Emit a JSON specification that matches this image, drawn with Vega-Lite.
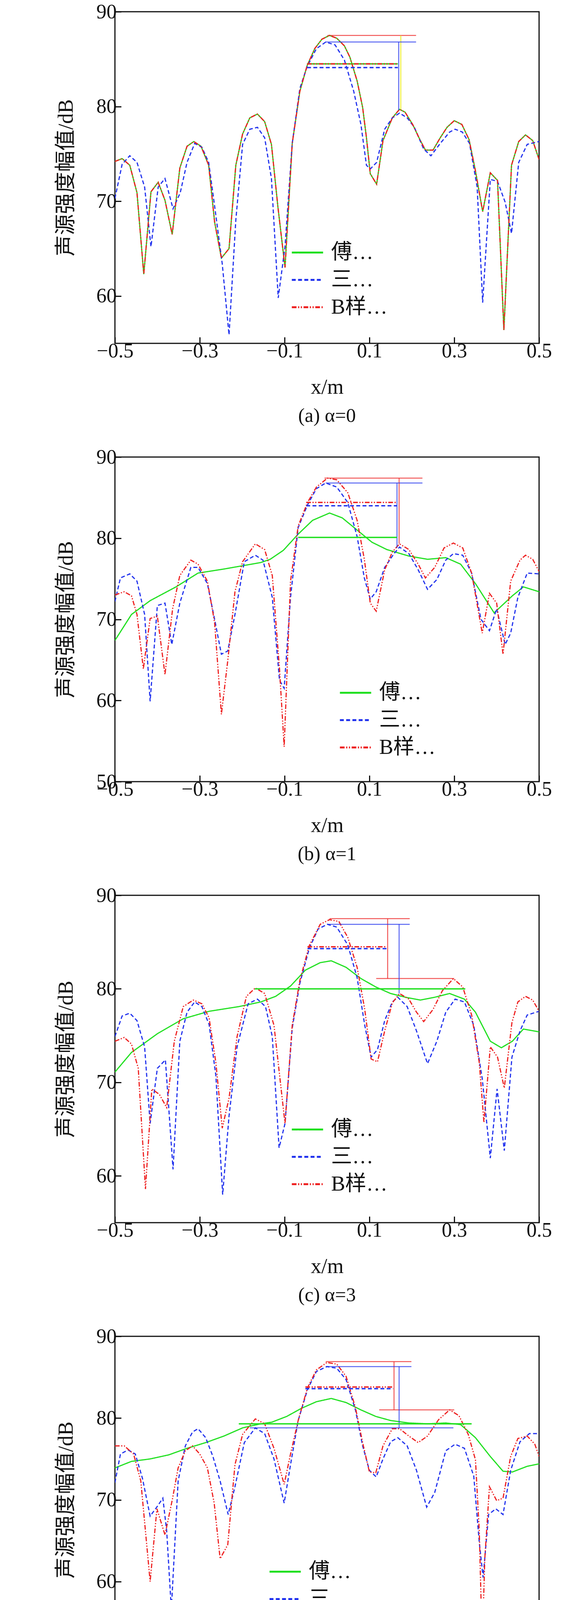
{
  "$schema": "https://vega.github.io/schema/vega-lite/v6.json",
  "padding": {"left": 140, "top": 2, "right": 40, "bottom": 10},
  "spacing": 50,
  "datasets": {
    "lines": [
      {"p":"a","s":"F","x":-0.5,"y":74.2},{"p":"a","s":"F","x":-0.483,"y":74.5},{"p":"a","s":"F","x":-0.465,"y":73.8},{"p":"a","s":"F","x":-0.448,"y":70.9},{"p":"a","s":"F","x":-0.432,"y":62.3},{"p":"a","s":"F","x":-0.415,"y":71.0},{"p":"a","s":"F","x":-0.398,"y":72.0},{"p":"a","s":"F","x":-0.382,"y":70.1},{"p":"a","s":"F","x":-0.365,"y":66.5},{"p":"a","s":"F","x":-0.347,"y":73.5},{"p":"a","s":"F","x":-0.33,"y":75.8},{"p":"a","s":"F","x":-0.314,"y":76.3},{"p":"a","s":"F","x":-0.297,"y":75.8},{"p":"a","s":"F","x":-0.279,"y":73.8},{"p":"a","s":"F","x":-0.265,"y":67.8},{"p":"a","s":"F","x":-0.249,"y":64.0},{"p":"a","s":"F","x":-0.231,"y":65.0},{"p":"a","s":"F","x":-0.215,"y":73.8},{"p":"a","s":"F","x":-0.199,"y":77.1},{"p":"a","s":"F","x":-0.182,"y":78.8},{"p":"a","s":"F","x":-0.164,"y":79.2},{"p":"a","s":"F","x":-0.147,"y":78.4},{"p":"a","s":"F","x":-0.131,"y":76.0},{"p":"a","s":"F","x":-0.116,"y":69.5},{"p":"a","s":"F","x":-0.099,"y":63.0},{"p":"a","s":"F","x":-0.082,"y":76.1},{"p":"a","s":"F","x":-0.064,"y":81.6},{"p":"a","s":"F","x":-0.047,"y":84.3},{"p":"a","s":"F","x":-0.029,"y":86.1},{"p":"a","s":"F","x":-0.012,"y":87.1},{"p":"a","s":"F","x":0.006,"y":87.5},{"p":"a","s":"F","x":0.023,"y":87.2},{"p":"a","s":"F","x":0.041,"y":86.4},{"p":"a","s":"F","x":0.054,"y":85.2},{"p":"a","s":"F","x":0.071,"y":82.7},{"p":"a","s":"F","x":0.084,"y":79.9},{"p":"a","s":"F","x":0.093,"y":76.7},{"p":"a","s":"F","x":0.102,"y":72.9},{"p":"a","s":"F","x":0.117,"y":71.8},{"p":"a","s":"F","x":0.132,"y":76.4},{"p":"a","s":"F","x":0.154,"y":78.8},{"p":"a","s":"F","x":0.171,"y":79.7},{"p":"a","s":"F","x":0.184,"y":79.4},{"p":"a","s":"F","x":0.202,"y":78.1},{"p":"a","s":"F","x":0.219,"y":76.5},{"p":"a","s":"F","x":0.232,"y":75.4},{"p":"a","s":"F","x":0.25,"y":75.4},{"p":"a","s":"F","x":0.267,"y":76.7},{"p":"a","s":"F","x":0.283,"y":77.8},{"p":"a","s":"F","x":0.3,"y":78.5},{"p":"a","s":"F","x":0.318,"y":78.1},{"p":"a","s":"F","x":0.335,"y":76.5},{"p":"a","s":"F","x":0.35,"y":73.2},{"p":"a","s":"F","x":0.367,"y":68.9},{"p":"a","s":"F","x":0.385,"y":73.0},{"p":"a","s":"F","x":0.402,"y":72.2},{"p":"a","s":"F","x":0.417,"y":56.4},{"p":"a","s":"F","x":0.435,"y":73.8},{"p":"a","s":"F","x":0.452,"y":76.3},{"p":"a","s":"F","x":0.468,"y":77.0},{"p":"a","s":"F","x":0.485,"y":76.4},{"p":"a","s":"F","x":0.5,"y":74.4},
      {"p":"a","s":"C","x":-0.5,"y":70.3},{"p":"a","s":"C","x":-0.483,"y":73.9},{"p":"a","s":"C","x":-0.465,"y":74.8},{"p":"a","s":"C","x":-0.448,"y":74.1},{"p":"a","s":"C","x":-0.43,"y":71.5},{"p":"a","s":"C","x":-0.415,"y":65.2},{"p":"a","s":"C","x":-0.398,"y":71.5},{"p":"a","s":"C","x":-0.382,"y":72.4},{"p":"a","s":"C","x":-0.363,"y":69.2},{"p":"a","s":"C","x":-0.346,"y":70.9},{"p":"a","s":"C","x":-0.33,"y":74.1},{"p":"a","s":"C","x":-0.312,"y":76.1},{"p":"a","s":"C","x":-0.295,"y":75.7},{"p":"a","s":"C","x":-0.279,"y":74.1},{"p":"a","s":"C","x":-0.265,"y":69.5},{"p":"a","s":"C","x":-0.247,"y":63.4},{"p":"a","s":"C","x":-0.231,"y":55.9},{"p":"a","s":"C","x":-0.215,"y":68.0},{"p":"a","s":"C","x":-0.199,"y":76.0},{"p":"a","s":"C","x":-0.182,"y":77.6},{"p":"a","s":"C","x":-0.164,"y":77.8},{"p":"a","s":"C","x":-0.147,"y":76.7},{"p":"a","s":"C","x":-0.131,"y":72.4},{"p":"a","s":"C","x":-0.115,"y":59.8},{"p":"a","s":"C","x":-0.099,"y":65.2},{"p":"a","s":"C","x":-0.082,"y":76.1},{"p":"a","s":"C","x":-0.064,"y":81.9},{"p":"a","s":"C","x":-0.047,"y":84.2},{"p":"a","s":"C","x":-0.025,"y":86.1},{"p":"a","s":"C","x":-0.003,"y":86.8},{"p":"a","s":"C","x":0.019,"y":86.5},{"p":"a","s":"C","x":0.041,"y":84.9},{"p":"a","s":"C","x":0.063,"y":81.6},{"p":"a","s":"C","x":0.08,"y":78.1},{"p":"a","s":"C","x":0.093,"y":73.8},{"p":"a","s":"C","x":0.102,"y":73.4},{"p":"a","s":"C","x":0.117,"y":74.1},{"p":"a","s":"C","x":0.136,"y":77.6},{"p":"a","s":"C","x":0.154,"y":78.8},{"p":"a","s":"C","x":0.171,"y":79.3},{"p":"a","s":"C","x":0.189,"y":78.8},{"p":"a","s":"C","x":0.206,"y":77.8},{"p":"a","s":"C","x":0.228,"y":75.5},{"p":"a","s":"C","x":0.245,"y":74.8},{"p":"a","s":"C","x":0.267,"y":76.1},{"p":"a","s":"C","x":0.289,"y":77.3},{"p":"a","s":"C","x":0.302,"y":77.6},{"p":"a","s":"C","x":0.319,"y":77.3},{"p":"a","s":"C","x":0.336,"y":76.1},{"p":"a","s":"C","x":0.354,"y":71.5},{"p":"a","s":"C","x":0.367,"y":59.3},{"p":"a","s":"C","x":0.385,"y":72.3},{"p":"a","s":"C","x":0.402,"y":72.1},{"p":"a","s":"C","x":0.42,"y":69.9},{"p":"a","s":"C","x":0.435,"y":66.6},{"p":"a","s":"C","x":0.452,"y":74.1},{"p":"a","s":"C","x":0.472,"y":76.0},{"p":"a","s":"C","x":0.5,"y":76.3},
      {"p":"a","s":"B","x":-0.5,"y":74.2},{"p":"a","s":"B","x":-0.483,"y":74.5},{"p":"a","s":"B","x":-0.465,"y":73.8},{"p":"a","s":"B","x":-0.448,"y":70.9},{"p":"a","s":"B","x":-0.432,"y":62.3},{"p":"a","s":"B","x":-0.415,"y":71.0},{"p":"a","s":"B","x":-0.398,"y":72.0},{"p":"a","s":"B","x":-0.382,"y":70.1},{"p":"a","s":"B","x":-0.365,"y":66.5},{"p":"a","s":"B","x":-0.347,"y":73.5},{"p":"a","s":"B","x":-0.33,"y":75.8},{"p":"a","s":"B","x":-0.314,"y":76.3},{"p":"a","s":"B","x":-0.297,"y":75.8},{"p":"a","s":"B","x":-0.279,"y":73.8},{"p":"a","s":"B","x":-0.265,"y":67.8},{"p":"a","s":"B","x":-0.249,"y":64.0},{"p":"a","s":"B","x":-0.231,"y":65.0},{"p":"a","s":"B","x":-0.215,"y":73.8},{"p":"a","s":"B","x":-0.199,"y":77.1},{"p":"a","s":"B","x":-0.182,"y":78.8},{"p":"a","s":"B","x":-0.164,"y":79.2},{"p":"a","s":"B","x":-0.147,"y":78.4},{"p":"a","s":"B","x":-0.131,"y":76.0},{"p":"a","s":"B","x":-0.116,"y":69.5},{"p":"a","s":"B","x":-0.099,"y":63.0},{"p":"a","s":"B","x":-0.082,"y":76.1},{"p":"a","s":"B","x":-0.064,"y":81.6},{"p":"a","s":"B","x":-0.047,"y":84.3},{"p":"a","s":"B","x":-0.029,"y":86.1},{"p":"a","s":"B","x":-0.012,"y":87.1},{"p":"a","s":"B","x":0.006,"y":87.5},{"p":"a","s":"B","x":0.023,"y":87.2},{"p":"a","s":"B","x":0.041,"y":86.4},{"p":"a","s":"B","x":0.054,"y":85.2},{"p":"a","s":"B","x":0.071,"y":82.7},{"p":"a","s":"B","x":0.084,"y":79.9},{"p":"a","s":"B","x":0.093,"y":76.7},{"p":"a","s":"B","x":0.102,"y":72.9},{"p":"a","s":"B","x":0.117,"y":71.8},{"p":"a","s":"B","x":0.132,"y":76.4},{"p":"a","s":"B","x":0.154,"y":78.8},{"p":"a","s":"B","x":0.171,"y":79.7},{"p":"a","s":"B","x":0.184,"y":79.4},{"p":"a","s":"B","x":0.202,"y":78.1},{"p":"a","s":"B","x":0.219,"y":76.5},{"p":"a","s":"B","x":0.232,"y":75.4},{"p":"a","s":"B","x":0.25,"y":75.4},{"p":"a","s":"B","x":0.267,"y":76.7},{"p":"a","s":"B","x":0.283,"y":77.8},{"p":"a","s":"B","x":0.3,"y":78.5},{"p":"a","s":"B","x":0.318,"y":78.1},{"p":"a","s":"B","x":0.335,"y":76.5},{"p":"a","s":"B","x":0.35,"y":73.2},{"p":"a","s":"B","x":0.367,"y":68.9},{"p":"a","s":"B","x":0.385,"y":73.0},{"p":"a","s":"B","x":0.402,"y":72.2},{"p":"a","s":"B","x":0.417,"y":56.4},{"p":"a","s":"B","x":0.435,"y":73.8},{"p":"a","s":"B","x":0.452,"y":76.3},{"p":"a","s":"B","x":0.468,"y":77.0},{"p":"a","s":"B","x":0.485,"y":76.4},{"p":"a","s":"B","x":0.5,"y":74.4},

      {"p":"b","s":"F","x":-0.5,"y":67.4},{"p":"b","s":"F","x":-0.461,"y":70.6},{"p":"b","s":"F","x":-0.417,"y":72.3},{"p":"b","s":"F","x":-0.356,"y":74.0},{"p":"b","s":"F","x":-0.304,"y":75.7},{"p":"b","s":"F","x":-0.243,"y":76.2},{"p":"b","s":"F","x":-0.156,"y":77.0},{"p":"b","s":"F","x":-0.134,"y":77.4},{"p":"b","s":"F","x":-0.103,"y":78.5},{"p":"b","s":"F","x":-0.068,"y":80.5},{"p":"b","s":"F","x":-0.034,"y":82.2},{"p":"b","s":"F","x":0.006,"y":83.1},{"p":"b","s":"F","x":0.036,"y":82.5},{"p":"b","s":"F","x":0.071,"y":81.0},{"p":"b","s":"F","x":0.106,"y":79.5},{"p":"b","s":"F","x":0.141,"y":78.6},{"p":"b","s":"F","x":0.193,"y":77.8},{"p":"b","s":"F","x":0.237,"y":77.4},{"p":"b","s":"F","x":0.28,"y":77.6},{"p":"b","s":"F","x":0.315,"y":76.8},{"p":"b","s":"F","x":0.35,"y":74.4},{"p":"b","s":"F","x":0.394,"y":70.8},{"p":"b","s":"F","x":0.437,"y":72.9},{"p":"b","s":"F","x":0.463,"y":74.0},{"p":"b","s":"F","x":0.5,"y":73.4},
      {"p":"b","s":"C","x":-0.5,"y":72.2},{"p":"b","s":"C","x":-0.487,"y":75.1},{"p":"b","s":"C","x":-0.465,"y":75.6},{"p":"b","s":"C","x":-0.448,"y":74.7},{"p":"b","s":"C","x":-0.43,"y":70.6},{"p":"b","s":"C","x":-0.417,"y":59.9},{"p":"b","s":"C","x":-0.4,"y":71.7},{"p":"b","s":"C","x":-0.382,"y":72.0},{"p":"b","s":"C","x":-0.366,"y":66.9},{"p":"b","s":"C","x":-0.347,"y":72.0},{"p":"b","s":"C","x":-0.321,"y":76.4},{"p":"b","s":"C","x":-0.304,"y":76.4},{"p":"b","s":"C","x":-0.282,"y":74.4},{"p":"b","s":"C","x":-0.265,"y":70.0},{"p":"b","s":"C","x":-0.249,"y":65.7},{"p":"b","s":"C","x":-0.234,"y":66.1},{"p":"b","s":"C","x":-0.217,"y":70.6},{"p":"b","s":"C","x":-0.195,"y":77.1},{"p":"b","s":"C","x":-0.169,"y":77.9},{"p":"b","s":"C","x":-0.151,"y":77.3},{"p":"b","s":"C","x":-0.129,"y":72.7},{"p":"b","s":"C","x":-0.112,"y":62.5},{"p":"b","s":"C","x":-0.101,"y":61.5},{"p":"b","s":"C","x":-0.086,"y":72.7},{"p":"b","s":"C","x":-0.068,"y":81.3},{"p":"b","s":"C","x":-0.046,"y":84.1},{"p":"b","s":"C","x":-0.025,"y":86.1},{"p":"b","s":"C","x":-0.003,"y":86.8},{"p":"b","s":"C","x":0.023,"y":86.3},{"p":"b","s":"C","x":0.049,"y":84.4},{"p":"b","s":"C","x":0.071,"y":80.2},{"p":"b","s":"C","x":0.088,"y":75.1},{"p":"b","s":"C","x":0.102,"y":72.5},{"p":"b","s":"C","x":0.116,"y":73.4},{"p":"b","s":"C","x":0.136,"y":76.4},{"p":"b","s":"C","x":0.158,"y":78.1},{"p":"b","s":"C","x":0.171,"y":78.9},{"p":"b","s":"C","x":0.193,"y":78.1},{"p":"b","s":"C","x":0.215,"y":76.1},{"p":"b","s":"C","x":0.237,"y":73.7},{"p":"b","s":"C","x":0.259,"y":74.9},{"p":"b","s":"C","x":0.28,"y":77.3},{"p":"b","s":"C","x":0.298,"y":78.1},{"p":"b","s":"C","x":0.32,"y":77.9},{"p":"b","s":"C","x":0.341,"y":75.7},{"p":"b","s":"C","x":0.363,"y":70.0},{"p":"b","s":"C","x":0.383,"y":68.6},{"p":"b","s":"C","x":0.4,"y":71.3},{"p":"b","s":"C","x":0.42,"y":66.9},{"p":"b","s":"C","x":0.433,"y":68.3},{"p":"b","s":"C","x":0.45,"y":72.7},{"p":"b","s":"C","x":0.472,"y":75.7},{"p":"b","s":"C","x":0.5,"y":75.6},
      {"p":"b","s":"B","x":-0.5,"y":73.0},{"p":"b","s":"B","x":-0.478,"y":73.4},{"p":"b","s":"B","x":-0.461,"y":72.9},{"p":"b","s":"B","x":-0.448,"y":70.6},{"p":"b","s":"B","x":-0.433,"y":63.9},{"p":"b","s":"B","x":-0.417,"y":70.1},{"p":"b","s":"B","x":-0.4,"y":70.4},{"p":"b","s":"B","x":-0.382,"y":63.2},{"p":"b","s":"B","x":-0.364,"y":71.3},{"p":"b","s":"B","x":-0.347,"y":75.4},{"p":"b","s":"B","x":-0.321,"y":77.3},{"p":"b","s":"B","x":-0.304,"y":76.8},{"p":"b","s":"B","x":-0.282,"y":74.7},{"p":"b","s":"B","x":-0.265,"y":69.6},{"p":"b","s":"B","x":-0.249,"y":58.3},{"p":"b","s":"B","x":-0.234,"y":64.9},{"p":"b","s":"B","x":-0.217,"y":73.4},{"p":"b","s":"B","x":-0.199,"y":77.1},{"p":"b","s":"B","x":-0.169,"y":79.3},{"p":"b","s":"B","x":-0.147,"y":78.6},{"p":"b","s":"B","x":-0.129,"y":75.4},{"p":"b","s":"B","x":-0.112,"y":63.9},{"p":"b","s":"B","x":-0.101,"y":54.3},{"p":"b","s":"B","x":-0.086,"y":74.7},{"p":"b","s":"B","x":-0.068,"y":81.5},{"p":"b","s":"B","x":-0.046,"y":84.4},{"p":"b","s":"B","x":-0.025,"y":86.3},{"p":"b","s":"B","x":0.001,"y":87.4},{"p":"b","s":"B","x":0.023,"y":87.2},{"p":"b","s":"B","x":0.049,"y":85.6},{"p":"b","s":"B","x":0.071,"y":82.2},{"p":"b","s":"B","x":0.088,"y":77.4},{"p":"b","s":"B","x":0.102,"y":72.0},{"p":"b","s":"B","x":0.116,"y":71.0},{"p":"b","s":"B","x":0.136,"y":76.1},{"p":"b","s":"B","x":0.154,"y":78.3},{"p":"b","s":"B","x":0.171,"y":79.3},{"p":"b","s":"B","x":0.193,"y":78.6},{"p":"b","s":"B","x":0.215,"y":76.8},{"p":"b","s":"B","x":0.232,"y":75.1},{"p":"b","s":"B","x":0.254,"y":76.4},{"p":"b","s":"B","x":0.276,"y":78.8},{"p":"b","s":"B","x":0.298,"y":79.4},{"p":"b","s":"B","x":0.32,"y":78.8},{"p":"b","s":"B","x":0.341,"y":75.7},{"p":"b","s":"B","x":0.366,"y":68.3},{"p":"b","s":"B","x":0.383,"y":73.2},{"p":"b","s":"B","x":0.4,"y":72.0},{"p":"b","s":"B","x":0.415,"y":65.7},{"p":"b","s":"B","x":0.433,"y":74.7},{"p":"b","s":"B","x":0.455,"y":77.3},{"p":"b","s":"B","x":0.468,"y":77.9},{"p":"b","s":"B","x":0.485,"y":77.4},{"p":"b","s":"B","x":0.5,"y":75.9},

      {"p":"c","s":"F","x":-0.5,"y":71.1},{"p":"c","s":"F","x":-0.461,"y":73.2},{"p":"c","s":"F","x":-0.4,"y":75.2},{"p":"c","s":"F","x":-0.339,"y":76.8},{"p":"c","s":"F","x":-0.278,"y":77.6},{"p":"c","s":"F","x":-0.208,"y":78.1},{"p":"c","s":"F","x":-0.156,"y":78.6},{"p":"c","s":"F","x":-0.121,"y":79.2},{"p":"c","s":"F","x":-0.086,"y":80.3},{"p":"c","s":"F","x":-0.051,"y":82.0},{"p":"c","s":"F","x":-0.016,"y":82.8},{"p":"c","s":"F","x":0.01,"y":83.0},{"p":"c","s":"F","x":0.045,"y":82.3},{"p":"c","s":"F","x":0.08,"y":81.1},{"p":"c","s":"F","x":0.115,"y":80.2},{"p":"c","s":"F","x":0.15,"y":79.5},{"p":"c","s":"F","x":0.185,"y":79.1},{"p":"c","s":"F","x":0.22,"y":78.8},{"p":"c","s":"F","x":0.254,"y":79.1},{"p":"c","s":"F","x":0.289,"y":79.5},{"p":"c","s":"F","x":0.324,"y":78.9},{"p":"c","s":"F","x":0.35,"y":77.5},{"p":"c","s":"F","x":0.385,"y":74.4},{"p":"c","s":"F","x":0.411,"y":73.7},{"p":"c","s":"F","x":0.437,"y":74.4},{"p":"c","s":"F","x":0.463,"y":75.7},{"p":"c","s":"F","x":0.5,"y":75.4},
      {"p":"c","s":"C","x":-0.5,"y":74.9},{"p":"c","s":"C","x":-0.483,"y":77.1},{"p":"c","s":"C","x":-0.465,"y":77.4},{"p":"c","s":"C","x":-0.448,"y":76.6},{"p":"c","s":"C","x":-0.43,"y":73.8},{"p":"c","s":"C","x":-0.417,"y":65.6},{"p":"c","s":"C","x":-0.4,"y":71.5},{"p":"c","s":"C","x":-0.381,"y":72.4},{"p":"c","s":"C","x":-0.363,"y":60.7},{"p":"c","s":"C","x":-0.347,"y":74.4},{"p":"c","s":"C","x":-0.33,"y":77.5},{"p":"c","s":"C","x":-0.312,"y":78.6},{"p":"c","s":"C","x":-0.295,"y":78.1},{"p":"c","s":"C","x":-0.278,"y":76.2},{"p":"c","s":"C","x":-0.262,"y":70.7},{"p":"c","s":"C","x":-0.246,"y":58.0},{"p":"c","s":"C","x":-0.231,"y":66.4},{"p":"c","s":"C","x":-0.212,"y":73.8},{"p":"c","s":"C","x":-0.186,"y":78.4},{"p":"c","s":"C","x":-0.164,"y":78.9},{"p":"c","s":"C","x":-0.145,"y":78.1},{"p":"c","s":"C","x":-0.129,"y":74.9},{"p":"c","s":"C","x":-0.113,"y":63.0},{"p":"c","s":"C","x":-0.099,"y":65.6},{"p":"c","s":"C","x":-0.082,"y":75.8},{"p":"c","s":"C","x":-0.064,"y":80.6},{"p":"c","s":"C","x":-0.042,"y":84.3},{"p":"c","s":"C","x":-0.021,"y":86.4},{"p":"c","s":"C","x":0.001,"y":86.9},{"p":"c","s":"C","x":0.023,"y":86.6},{"p":"c","s":"C","x":0.049,"y":84.7},{"p":"c","s":"C","x":0.071,"y":81.2},{"p":"c","s":"C","x":0.089,"y":76.1},{"p":"c","s":"C","x":0.104,"y":72.7},{"p":"c","s":"C","x":0.119,"y":73.5},{"p":"c","s":"C","x":0.136,"y":76.6},{"p":"c","s":"C","x":0.154,"y":78.6},{"p":"c","s":"C","x":0.167,"y":79.1},{"p":"c","s":"C","x":0.189,"y":78.1},{"p":"c","s":"C","x":0.211,"y":75.5},{"p":"c","s":"C","x":0.237,"y":72.0},{"p":"c","s":"C","x":0.259,"y":74.4},{"p":"c","s":"C","x":0.28,"y":77.5},{"p":"c","s":"C","x":0.302,"y":78.9},{"p":"c","s":"C","x":0.324,"y":78.6},{"p":"c","s":"C","x":0.346,"y":76.1},{"p":"c","s":"C","x":0.366,"y":70.4},{"p":"c","s":"C","x":0.385,"y":61.9},{"p":"c","s":"C","x":0.401,"y":69.3},{"p":"c","s":"C","x":0.418,"y":62.7},{"p":"c","s":"C","x":0.436,"y":72.7},{"p":"c","s":"C","x":0.455,"y":75.5},{"p":"c","s":"C","x":0.472,"y":77.2},{"p":"c","s":"C","x":0.5,"y":77.6},
      {"p":"c","s":"B","x":-0.5,"y":74.4},{"p":"c","s":"B","x":-0.478,"y":74.8},{"p":"c","s":"B","x":-0.461,"y":74.1},{"p":"c","s":"B","x":-0.445,"y":71.5},{"p":"c","s":"B","x":-0.428,"y":58.6},{"p":"c","s":"B","x":-0.413,"y":69.3},{"p":"c","s":"B","x":-0.395,"y":68.7},{"p":"c","s":"B","x":-0.378,"y":67.3},{"p":"c","s":"B","x":-0.36,"y":74.4},{"p":"c","s":"B","x":-0.339,"y":78.1},{"p":"c","s":"B","x":-0.315,"y":78.8},{"p":"c","s":"B","x":-0.295,"y":78.4},{"p":"c","s":"B","x":-0.278,"y":76.9},{"p":"c","s":"B","x":-0.262,"y":72.1},{"p":"c","s":"B","x":-0.247,"y":65.1},{"p":"c","s":"B","x":-0.231,"y":68.3},{"p":"c","s":"B","x":-0.212,"y":74.9},{"p":"c","s":"B","x":-0.19,"y":79.2},{"p":"c","s":"B","x":-0.169,"y":80.1},{"p":"c","s":"B","x":-0.147,"y":79.5},{"p":"c","s":"B","x":-0.125,"y":76.1},{"p":"c","s":"B","x":-0.099,"y":65.6},{"p":"c","s":"B","x":-0.082,"y":76.1},{"p":"c","s":"B","x":-0.064,"y":80.9},{"p":"c","s":"B","x":-0.042,"y":84.6},{"p":"c","s":"B","x":-0.016,"y":86.9},{"p":"c","s":"B","x":0.006,"y":87.4},{"p":"c","s":"B","x":0.028,"y":87.2},{"p":"c","s":"B","x":0.049,"y":85.5},{"p":"c","s":"B","x":0.071,"y":82.3},{"p":"c","s":"B","x":0.089,"y":77.8},{"p":"c","s":"B","x":0.104,"y":72.5},{"p":"c","s":"B","x":0.119,"y":72.2},{"p":"c","s":"B","x":0.136,"y":75.5},{"p":"c","s":"B","x":0.154,"y":78.5},{"p":"c","s":"B","x":0.171,"y":79.5},{"p":"c","s":"B","x":0.193,"y":78.9},{"p":"c","s":"B","x":0.211,"y":77.5},{"p":"c","s":"B","x":0.228,"y":76.5},{"p":"c","s":"B","x":0.25,"y":77.8},{"p":"c","s":"B","x":0.272,"y":79.8},{"p":"c","s":"B","x":0.298,"y":81.1},{"p":"c","s":"B","x":0.32,"y":80.2},{"p":"c","s":"B","x":0.341,"y":77.2},{"p":"c","s":"B","x":0.359,"y":72.1},{"p":"c","s":"B","x":0.37,"y":65.7},{"p":"c","s":"B","x":0.385,"y":73.8},{"p":"c","s":"B","x":0.402,"y":72.7},{"p":"c","s":"B","x":0.418,"y":69.4},{"p":"c","s":"B","x":0.436,"y":76.4},{"p":"c","s":"B","x":0.45,"y":78.6},{"p":"c","s":"B","x":0.468,"y":79.2},{"p":"c","s":"B","x":0.485,"y":78.8},{"p":"c","s":"B","x":0.5,"y":77.6},

      {"p":"d","s":"F","x":-0.5,"y":73.9},{"p":"d","s":"F","x":-0.461,"y":74.7},{"p":"d","s":"F","x":-0.417,"y":75.0},{"p":"d","s":"F","x":-0.373,"y":75.5},{"p":"d","s":"F","x":-0.33,"y":76.3},{"p":"d","s":"F","x":-0.286,"y":77.0},{"p":"d","s":"F","x":-0.243,"y":77.8},{"p":"d","s":"F","x":-0.199,"y":78.8},{"p":"d","s":"F","x":-0.156,"y":79.3},{"p":"d","s":"F","x":-0.13,"y":79.5},{"p":"d","s":"F","x":-0.095,"y":80.2},{"p":"d","s":"F","x":-0.06,"y":81.2},{"p":"d","s":"F","x":-0.025,"y":82.0},{"p":"d","s":"F","x":0.01,"y":82.4},{"p":"d","s":"F","x":0.045,"y":81.9},{"p":"d","s":"F","x":0.08,"y":81.0},{"p":"d","s":"F","x":0.115,"y":80.2},{"p":"d","s":"F","x":0.15,"y":79.7},{"p":"d","s":"F","x":0.193,"y":79.4},{"p":"d","s":"F","x":0.237,"y":79.3},{"p":"d","s":"F","x":0.28,"y":79.4},{"p":"d","s":"F","x":0.315,"y":79.2},{"p":"d","s":"F","x":0.35,"y":77.6},{"p":"d","s":"F","x":0.385,"y":75.3},{"p":"d","s":"F","x":0.415,"y":73.5},{"p":"d","s":"F","x":0.437,"y":73.4},{"p":"d","s":"F","x":0.472,"y":74.1},{"p":"d","s":"F","x":0.5,"y":74.4},
      {"p":"d","s":"C","x":-0.5,"y":72.1},{"p":"d","s":"C","x":-0.487,"y":75.6},{"p":"d","s":"C","x":-0.469,"y":76.1},{"p":"d","s":"C","x":-0.452,"y":75.6},{"p":"d","s":"C","x":-0.435,"y":72.6},{"p":"d","s":"C","x":-0.417,"y":68.0},{"p":"d","s":"C","x":-0.4,"y":69.2},{"p":"d","s":"C","x":-0.387,"y":70.2},{"p":"d","s":"C","x":-0.378,"y":66.2},{"p":"d","s":"C","x":-0.367,"y":56.6},{"p":"d","s":"C","x":-0.351,"y":72.3},{"p":"d","s":"C","x":-0.334,"y":76.6},{"p":"d","s":"C","x":-0.317,"y":78.3},{"p":"d","s":"C","x":-0.304,"y":78.7},{"p":"d","s":"C","x":-0.286,"y":77.6},{"p":"d","s":"C","x":-0.269,"y":75.3},{"p":"d","s":"C","x":-0.252,"y":72.3},{"p":"d","s":"C","x":-0.233,"y":68.2},{"p":"d","s":"C","x":-0.217,"y":71.6},{"p":"d","s":"C","x":-0.195,"y":77.0},{"p":"d","s":"C","x":-0.169,"y":78.8},{"p":"d","s":"C","x":-0.147,"y":78.1},{"p":"d","s":"C","x":-0.125,"y":75.0},{"p":"d","s":"C","x":-0.101,"y":69.6},{"p":"d","s":"C","x":-0.086,"y":74.3},{"p":"d","s":"C","x":-0.068,"y":79.7},{"p":"d","s":"C","x":-0.046,"y":83.5},{"p":"d","s":"C","x":-0.025,"y":85.7},{"p":"d","s":"C","x":0.0,"y":86.3},{"p":"d","s":"C","x":0.023,"y":86.1},{"p":"d","s":"C","x":0.045,"y":84.7},{"p":"d","s":"C","x":0.067,"y":81.0},{"p":"d","s":"C","x":0.084,"y":76.6},{"p":"d","s":"C","x":0.1,"y":73.6},{"p":"d","s":"C","x":0.116,"y":72.8},{"p":"d","s":"C","x":0.132,"y":75.0},{"p":"d","s":"C","x":0.15,"y":77.1},{"p":"d","s":"C","x":0.167,"y":77.6},{"p":"d","s":"C","x":0.189,"y":76.6},{"p":"d","s":"C","x":0.211,"y":73.6},{"p":"d","s":"C","x":0.235,"y":69.1},{"p":"d","s":"C","x":0.254,"y":70.9},{"p":"d","s":"C","x":0.28,"y":76.0},{"p":"d","s":"C","x":0.302,"y":76.8},{"p":"d","s":"C","x":0.324,"y":76.3},{"p":"d","s":"C","x":0.346,"y":72.9},{"p":"d","s":"C","x":0.359,"y":64.8},{"p":"d","s":"C","x":0.368,"y":60.5},{"p":"d","s":"C","x":0.381,"y":68.2},{"p":"d","s":"C","x":0.398,"y":68.9},{"p":"d","s":"C","x":0.415,"y":68.2},{"p":"d","s":"C","x":0.433,"y":73.6},{"p":"d","s":"C","x":0.455,"y":77.1},{"p":"d","s":"C","x":0.477,"y":78.1},{"p":"d","s":"C","x":0.5,"y":78.1},
      {"p":"d","s":"B","x":-0.5,"y":76.6},{"p":"d","s":"B","x":-0.478,"y":76.6},{"p":"d","s":"B","x":-0.456,"y":75.6},{"p":"d","s":"B","x":-0.439,"y":72.3},{"p":"d","s":"B","x":-0.417,"y":60.0},{"p":"d","s":"B","x":-0.401,"y":68.9},{"p":"d","s":"B","x":-0.382,"y":65.7},{"p":"d","s":"B","x":-0.364,"y":70.2},{"p":"d","s":"B","x":-0.351,"y":73.9},{"p":"d","s":"B","x":-0.334,"y":76.0},{"p":"d","s":"B","x":-0.317,"y":76.6},{"p":"d","s":"B","x":-0.3,"y":75.6},{"p":"d","s":"B","x":-0.282,"y":73.9},{"p":"d","s":"B","x":-0.266,"y":69.6},{"p":"d","s":"B","x":-0.252,"y":62.8},{"p":"d","s":"B","x":-0.234,"y":64.5},{"p":"d","s":"B","x":-0.217,"y":74.3},{"p":"d","s":"B","x":-0.199,"y":78.0},{"p":"d","s":"B","x":-0.169,"y":79.9},{"p":"d","s":"B","x":-0.147,"y":79.3},{"p":"d","s":"B","x":-0.125,"y":76.3},{"p":"d","s":"B","x":-0.101,"y":71.9},{"p":"d","s":"B","x":-0.086,"y":75.6},{"p":"d","s":"B","x":-0.068,"y":79.7},{"p":"d","s":"B","x":-0.046,"y":83.7},{"p":"d","s":"B","x":-0.025,"y":85.9},{"p":"d","s":"B","x":0.0,"y":86.8},{"p":"d","s":"B","x":0.023,"y":86.6},{"p":"d","s":"B","x":0.045,"y":85.1},{"p":"d","s":"B","x":0.067,"y":81.3},{"p":"d","s":"B","x":0.084,"y":77.0},{"p":"d","s":"B","x":0.1,"y":73.4},{"p":"d","s":"B","x":0.115,"y":73.3},{"p":"d","s":"B","x":0.132,"y":76.6},{"p":"d","s":"B","x":0.154,"y":78.7},{"p":"d","s":"B","x":0.171,"y":78.7},{"p":"d","s":"B","x":0.193,"y":77.8},{"p":"d","s":"B","x":0.215,"y":77.0},{"p":"d","s":"B","x":0.237,"y":77.8},{"p":"d","s":"B","x":0.263,"y":79.8},{"p":"d","s":"B","x":0.289,"y":81.0},{"p":"d","s":"B","x":0.311,"y":80.3},{"p":"d","s":"B","x":0.333,"y":78.0},{"p":"d","s":"B","x":0.35,"y":74.9},{"p":"d","s":"B","x":0.359,"y":66.2},{"p":"d","s":"B","x":0.366,"y":52.1},{"p":"d","s":"B","x":0.372,"y":62.8},{"p":"d","s":"B","x":0.383,"y":71.6},{"p":"d","s":"B","x":0.4,"y":69.9},{"p":"d","s":"B","x":0.415,"y":70.2},{"p":"d","s":"B","x":0.433,"y":75.3},{"p":"d","s":"B","x":0.45,"y":77.5},{"p":"d","s":"B","x":0.472,"y":77.8},{"p":"d","s":"B","x":0.49,"y":76.8},{"p":"d","s":"B","x":0.5,"y":75.3},

      {"p":"e","s":"F","x":-0.5,"y":74.3},{"p":"e","s":"F","x":-0.461,"y":75.1},{"p":"e","s":"F","x":-0.417,"y":75.7},{"p":"e","s":"F","x":-0.373,"y":76.2},{"p":"e","s":"F","x":-0.33,"y":76.6},{"p":"e","s":"F","x":-0.286,"y":77.2},{"p":"e","s":"F","x":-0.252,"y":77.8},{"p":"e","s":"F","x":-0.217,"y":78.6},{"p":"e","s":"F","x":-0.182,"y":79.6},{"p":"e","s":"F","x":-0.138,"y":80.3},{"p":"e","s":"F","x":-0.095,"y":80.9},{"p":"e","s":"F","x":-0.051,"y":81.6},{"p":"e","s":"F","x":-0.016,"y":82.2},{"p":"e","s":"F","x":0.019,"y":82.4},{"p":"e","s":"F","x":0.054,"y":82.2},{"p":"e","s":"F","x":0.089,"y":81.6},{"p":"e","s":"F","x":0.133,"y":80.9},{"p":"e","s":"F","x":0.176,"y":80.5},{"p":"e","s":"F","x":0.22,"y":79.9},{"p":"e","s":"F","x":0.263,"y":79.5},{"p":"e","s":"F","x":0.307,"y":79.3},{"p":"e","s":"F","x":0.341,"y":79.1},{"p":"e","s":"F","x":0.376,"y":77.8},{"p":"e","s":"F","x":0.402,"y":76.2},{"p":"e","s":"F","x":0.428,"y":75.3},{"p":"e","s":"F","x":0.455,"y":75.1},{"p":"e","s":"F","x":0.481,"y":75.4},{"p":"e","s":"F","x":0.5,"y":75.4},
      {"p":"e","s":"C","x":-0.5,"y":72.3},{"p":"e","s":"C","x":-0.487,"y":75.4},{"p":"e","s":"C","x":-0.465,"y":76.8},{"p":"e","s":"C","x":-0.448,"y":77.0},{"p":"e","s":"C","x":-0.43,"y":76.1},{"p":"e","s":"C","x":-0.413,"y":73.8},{"p":"e","s":"C","x":-0.395,"y":71.6},{"p":"e","s":"C","x":-0.378,"y":69.1},{"p":"e","s":"C","x":-0.36,"y":70.0},{"p":"e","s":"C","x":-0.343,"y":73.5},{"p":"e","s":"C","x":-0.326,"y":76.8},{"p":"e","s":"C","x":-0.304,"y":78.0},{"p":"e","s":"C","x":-0.282,"y":77.7},{"p":"e","s":"C","x":-0.26,"y":76.1},{"p":"e","s":"C","x":-0.234,"y":75.4},{"p":"e","s":"C","x":-0.217,"y":76.5},{"p":"e","s":"C","x":-0.195,"y":78.1},{"p":"e","s":"C","x":-0.169,"y":80.0},{"p":"e","s":"C","x":-0.147,"y":79.6},{"p":"e","s":"C","x":-0.125,"y":77.8},{"p":"e","s":"C","x":-0.101,"y":75.9},{"p":"e","s":"C","x":-0.086,"y":77.3},{"p":"e","s":"C","x":-0.068,"y":80.0},{"p":"e","s":"C","x":-0.046,"y":83.1},{"p":"e","s":"C","x":-0.025,"y":85.0},{"p":"e","s":"C","x":0.0,"y":85.9},{"p":"e","s":"C","x":0.023,"y":85.7},{"p":"e","s":"C","x":0.045,"y":84.6},{"p":"e","s":"C","x":0.067,"y":81.6},{"p":"e","s":"C","x":0.084,"y":77.6},{"p":"e","s":"C","x":0.1,"y":74.9},{"p":"e","s":"C","x":0.116,"y":74.2},{"p":"e","s":"C","x":0.136,"y":76.2},{"p":"e","s":"C","x":0.162,"y":77.0},{"p":"e","s":"C","x":0.184,"y":76.1},{"p":"e","s":"C","x":0.206,"y":72.4},{"p":"e","s":"C","x":0.224,"y":66.2},{"p":"e","s":"C","x":0.237,"y":65.4},{"p":"e","s":"C","x":0.254,"y":69.5},{"p":"e","s":"C","x":0.276,"y":73.2},{"p":"e","s":"C","x":0.298,"y":74.6},{"p":"e","s":"C","x":0.315,"y":74.3},{"p":"e","s":"C","x":0.333,"y":71.9},{"p":"e","s":"C","x":0.35,"y":66.6},{"p":"e","s":"C","x":0.367,"y":68.9},{"p":"e","s":"C","x":0.385,"y":71.1},{"p":"e","s":"C","x":0.402,"y":69.5},{"p":"e","s":"C","x":0.418,"y":67.4},{"p":"e","s":"C","x":0.433,"y":73.2},{"p":"e","s":"C","x":0.45,"y":76.2},{"p":"e","s":"C","x":0.468,"y":77.7},{"p":"e","s":"C","x":0.5,"y":77.0},
      {"p":"e","s":"B","x":-0.5,"y":76.1},{"p":"e","s":"B","x":-0.478,"y":76.3},{"p":"e","s":"B","x":-0.461,"y":75.9},{"p":"e","s":"B","x":-0.448,"y":74.3},{"p":"e","s":"B","x":-0.432,"y":71.9},{"p":"e","s":"B","x":-0.415,"y":64.1},{"p":"e","s":"B","x":-0.4,"y":67.3},{"p":"e","s":"B","x":-0.382,"y":67.2},{"p":"e","s":"B","x":-0.366,"y":64.5},{"p":"e","s":"B","x":-0.349,"y":72.4},{"p":"e","s":"B","x":-0.331,"y":74.2},{"p":"e","s":"B","x":-0.315,"y":74.9},{"p":"e","s":"B","x":-0.295,"y":74.3},{"p":"e","s":"B","x":-0.279,"y":72.2},{"p":"e","s":"B","x":-0.265,"y":67.6},{"p":"e","s":"B","x":-0.25,"y":61.6},{"p":"e","s":"B","x":-0.234,"y":67.6},{"p":"e","s":"B","x":-0.217,"y":73.8},{"p":"e","s":"B","x":-0.195,"y":77.6},{"p":"e","s":"B","x":-0.169,"y":80.0},{"p":"e","s":"B","x":-0.147,"y":79.6},{"p":"e","s":"B","x":-0.125,"y":77.8},{"p":"e","s":"B","x":-0.101,"y":75.4},{"p":"e","s":"B","x":-0.086,"y":77.3},{"p":"e","s":"B","x":-0.068,"y":80.0},{"p":"e","s":"B","x":-0.046,"y":83.2},{"p":"e","s":"B","x":-0.025,"y":85.3},{"p":"e","s":"B","x":0.0,"y":86.4},{"p":"e","s":"B","x":0.023,"y":86.1},{"p":"e","s":"B","x":0.045,"y":84.9},{"p":"e","s":"B","x":0.067,"y":81.9},{"p":"e","s":"B","x":0.084,"y":78.1},{"p":"e","s":"B","x":0.098,"y":76.4},{"p":"e","s":"B","x":0.115,"y":75.5},{"p":"e","s":"B","x":0.136,"y":77.6},{"p":"e","s":"B","x":0.158,"y":79.2},{"p":"e","s":"B","x":0.18,"y":79.5},{"p":"e","s":"B","x":0.202,"y":79.2},{"p":"e","s":"B","x":0.22,"y":79.2},{"p":"e","s":"B","x":0.246,"y":80.0},{"p":"e","s":"B","x":0.267,"y":80.5},{"p":"e","s":"B","x":0.285,"y":80.8},{"p":"e","s":"B","x":0.302,"y":80.4},{"p":"e","s":"B","x":0.324,"y":78.9},{"p":"e","s":"B","x":0.341,"y":76.5},{"p":"e","s":"B","x":0.363,"y":71.6},{"p":"e","s":"B","x":0.383,"y":67.6},{"p":"e","s":"B","x":0.4,"y":72.2},{"p":"e","s":"B","x":0.415,"y":75.4},{"p":"e","s":"B","x":0.436,"y":77.7},{"p":"e","s":"B","x":0.455,"y":78.4},{"p":"e","s":"B","x":0.472,"y":78.1},{"p":"e","s":"B","x":0.49,"y":76.8},{"p":"e","s":"B","x":0.5,"y":75.1}
    ],
    "br": [
      {"p":"a","k":"top","s":"B","x":0.001,"x2":0.21,"y":87.5,"y2":87.5},
      {"p":"a","k":"top","s":"Y","x":0.174,"x2":0.174,"y":87.5,"y2":79.7},
      {"p":"a","k":"top","s":"C","x":-0.003,"x2":0.21,"y":86.8,"y2":86.8},
      {"p":"a","k":"top","s":"C","x":0.169,"x2":0.169,"y":86.8,"y2":79.6},
      {"p":"a","k":"half","s":"F","x":-0.047,"x2":0.167,"y":84.5,"y2":84.5},
      {"p":"a","k":"half","s":"B","x":-0.047,"x2":0.167,"y":84.5,"y2":84.5},
      {"p":"a","k":"half","s":"C","x":-0.047,"x2":0.167,"y":84.1,"y2":84.1},

      {"p":"b","k":"top","s":"B","x":-0.006,"x2":0.225,"y":87.4,"y2":87.4},
      {"p":"b","k":"top","s":"B","x":0.17,"x2":0.17,"y":87.4,"y2":79.3},
      {"p":"b","k":"top","s":"C","x":-0.003,"x2":0.225,"y":86.8,"y2":86.8},
      {"p":"b","k":"top","s":"C","x":0.165,"x2":0.165,"y":86.8,"y2":78.8},
      {"p":"b","k":"half","s":"B","x":-0.049,"x2":0.165,"y":84.4,"y2":84.4},
      {"p":"b","k":"half","s":"C","x":-0.049,"x2":0.165,"y":84.0,"y2":84.0},
      {"p":"b","k":"half","s":"F","x":-0.068,"x2":0.165,"y":80.1,"y2":80.1},

      {"p":"c","k":"top","s":"B","x":0.006,"x2":0.195,"y":87.5,"y2":87.5},
      {"p":"c","k":"top","s":"B","x":0.143,"x2":0.143,"y":87.5,"y2":81.1},
      {"p":"c","k":"top","s":"B","x":0.116,"x2":0.3,"y":81.1,"y2":81.1},
      {"p":"c","k":"top","s":"C","x":0.001,"x2":0.195,"y":86.9,"y2":86.9},
      {"p":"c","k":"top","s":"C","x":0.17,"x2":0.17,"y":86.9,"y2":79.5},
      {"p":"c","k":"half","s":"B","x":-0.046,"x2":0.141,"y":84.5,"y2":84.5},
      {"p":"c","k":"half","s":"C","x":-0.046,"x2":0.141,"y":84.3,"y2":84.3},
      {"p":"c","k":"half","s":"F","x":-0.17,"x2":0.326,"y":80.0,"y2":80.0},

      {"p":"d","k":"top","s":"B","x":-0.003,"x2":0.199,"y":86.9,"y2":86.9},
      {"p":"d","k":"top","s":"B","x":0.158,"x2":0.158,"y":86.9,"y2":81.0},
      {"p":"d","k":"top","s":"B","x":0.123,"x2":0.3,"y":81.0,"y2":81.0},
      {"p":"d","k":"top","s":"C","x":-0.003,"x2":0.199,"y":86.3,"y2":86.3},
      {"p":"d","k":"top","s":"C","x":0.17,"x2":0.17,"y":86.3,"y2":78.8},
      {"p":"d","k":"top","s":"C","x":-0.182,"x2":0.298,"y":78.8,"y2":78.8},
      {"p":"d","k":"half","s":"B","x":-0.051,"x2":0.156,"y":83.8,"y2":83.8},
      {"p":"d","k":"half","s":"C","x":-0.051,"x2":0.156,"y":83.6,"y2":83.6},
      {"p":"d","k":"half","s":"F","x":-0.208,"x2":0.341,"y":79.3,"y2":79.3},

      {"p":"e","k":"top","s":"B","x":0.006,"x2":0.189,"y":86.3,"y2":86.3},
      {"p":"e","k":"top","s":"B","x":0.147,"x2":0.147,"y":86.3,"y2":80.8},
      {"p":"e","k":"top","s":"B","x":0.098,"x2":0.285,"y":80.8,"y2":80.8},
      {"p":"e","k":"top","s":"C","x":0.001,"x2":0.189,"y":85.9,"y2":85.9},
      {"p":"e","k":"top","s":"C","x":0.13,"x2":0.13,"y":85.9,"y2":80.0},
      {"p":"e","k":"top","s":"C","x":-0.164,"x2":0.184,"y":80.0,"y2":80.0},
      {"p":"e","k":"half","s":"B","x":-0.049,"x2":0.125,"y":83.3,"y2":83.3},
      {"p":"e","k":"half","s":"F","x":-0.195,"x2":0.331,"y":79.3,"y2":79.3}
    ]
  },
  "vconcat": [
    {
      "width": 1085, "height": 849,
      "title": {"text": "(a) α=0"},
      "layer": [
        {"data": {"name": "lines"}, "transform": [{"filter": "datum.p == 'a'"}],
         "mark": {"type": "line", "strokeWidth": 3, "clip": true},
         "encoding": {
           "x": {"field": "x", "type": "quantitative", "scale": {"domain": [-0.5, 0.5]}, "axis": {"values": [-0.5, -0.3, -0.1, 0.1, 0.3, 0.5], "format": ".1f", "title": "x/m"}},
           "y": {"field": "y", "type": "quantitative", "scale": {"domain": [55.3, 90]}, "axis": {"values": [60, 70, 80, 90], "title": "声源强度幅值/dB"}},
           "color": {"field": "s", "type": "nominal", "scale": {"domain": ["F", "C", "B"], "range": ["#22e022", "#2233ee", "#ee2222"]}, "legend": {"legendX": 450, "legendY": 574, "labelExpr": "datum.label == 'F' ? '傅里叶插值' : datum.label == 'C' ? '三次样条插值' : 'B样条插值'"}},
           "strokeDash": {"field": "s", "type": "nominal", "scale": {"domain": ["F", "C", "B"], "range": [[1, 0], [10, 6], [12, 4, 3, 4, 3, 4]]}, "legend": {"legendX": 450, "legendY": 574, "labelExpr": "datum.label == 'F' ? '傅里叶插值' : datum.label == 'C' ? '三次样条插值' : 'B样条插值'"}}
         }},
        {"data": {"name": "br"}, "transform": [{"filter": "datum.p == 'a' && datum.k == 'top'"}],
         "mark": {"type": "rule", "strokeWidth": 2.5, "opacity": 0.75},
         "encoding": {"x": {"field": "x", "type": "quantitative"}, "x2": {"field": "x2"}, "y": {"field": "y", "type": "quantitative"}, "y2": {"field": "y2"},
           "color": {"field": "s", "type": "nominal", "scale": {"domain": ["F", "C", "B", "Y"], "range": ["#22e022", "#2233ee", "#ee2222", "#e6e600"]}, "legend": null}}},
        {"data": {"name": "br"}, "transform": [{"filter": "datum.p == 'a' && datum.k == 'half'"}],
         "mark": {"type": "rule", "strokeWidth": 3.5},
         "encoding": {"x": {"field": "x", "type": "quantitative"}, "x2": {"field": "x2"}, "y": {"field": "y", "type": "quantitative"}, "y2": {"field": "y2"},
           "color": {"field": "s", "type": "nominal", "scale": {"domain": ["F", "C", "B"], "range": ["#22e022", "#2233ee", "#ee2222"]}, "legend": null},
           "strokeDash": {"field": "s", "type": "nominal", "scale": {"domain": ["F", "C", "B"], "range": [[1, 0], [10, 6], [12, 4, 3, 4, 3, 4]]}, "legend": null}}}
      ],
      "resolve": {"scale": {"color": "independent", "strokeDash": "independent"}}
    },
    {
      "width": 1085, "height": 831,
      "title": {"text": "(b) α=1"},
      "layer": [
        {"data": {"name": "lines"}, "transform": [{"filter": "datum.p == 'b'"}],
         "mark": {"type": "line", "strokeWidth": 3, "clip": true},
         "encoding": {
           "x": {"field": "x", "type": "quantitative", "scale": {"domain": [-0.5, 0.5]}, "axis": {"values": [-0.5, -0.3, -0.1, 0.1, 0.3, 0.5], "format": ".1f", "title": "x/m"}},
           "y": {"field": "y", "type": "quantitative", "scale": {"domain": [50, 90]}, "axis": {"values": [50, 60, 70, 80, 90], "title": "声源强度幅值/dB"}},
           "color": {"field": "s", "type": "nominal", "scale": {"domain": ["F", "C", "B"], "range": ["#22e022", "#2233ee", "#ee2222"]}, "legend": {"legendX": 573, "legendY": 561, "labelExpr": "datum.label == 'F' ? '傅里叶插值' : datum.label == 'C' ? '三次样条插值' : 'B样条插值'"}},
           "strokeDash": {"field": "s", "type": "nominal", "scale": {"domain": ["F", "C", "B"], "range": [[1, 0], [10, 6], [12, 4, 3, 4, 3, 4]]}, "legend": {"legendX": 573, "legendY": 561, "labelExpr": "datum.label == 'F' ? '傅里叶插值' : datum.label == 'C' ? '三次样条插值' : 'B样条插值'"}}
         }},
        {"data": {"name": "br"}, "transform": [{"filter": "datum.p == 'b' && datum.k == 'top'"}],
         "mark": {"type": "rule", "strokeWidth": 2.5, "opacity": 0.75},
         "encoding": {"x": {"field": "x", "type": "quantitative"}, "x2": {"field": "x2"}, "y": {"field": "y", "type": "quantitative"}, "y2": {"field": "y2"},
           "color": {"field": "s", "type": "nominal", "scale": {"domain": ["F", "C", "B", "Y"], "range": ["#22e022", "#2233ee", "#ee2222", "#e6e600"]}, "legend": null}}},
        {"data": {"name": "br"}, "transform": [{"filter": "datum.p == 'b' && datum.k == 'half'"}],
         "mark": {"type": "rule", "strokeWidth": 3.5},
         "encoding": {"x": {"field": "x", "type": "quantitative"}, "x2": {"field": "x2"}, "y": {"field": "y", "type": "quantitative"}, "y2": {"field": "y2"},
           "color": {"field": "s", "type": "nominal", "scale": {"domain": ["F", "C", "B"], "range": ["#22e022", "#2233ee", "#ee2222"]}, "legend": null},
           "strokeDash": {"field": "s", "type": "nominal", "scale": {"domain": ["F", "C", "B"], "range": [[1, 0], [10, 6], [12, 4, 3, 4, 3, 4]]}, "legend": null}}}
      ],
      "resolve": {"scale": {"color": "independent", "strokeDash": "independent"}}
    },
    {
      "width": 1085, "height": 838,
      "title": {"text": "(c) α=3"},
      "layer": [
        {"data": {"name": "lines"}, "transform": [{"filter": "datum.p == 'c'"}],
         "mark": {"type": "line", "strokeWidth": 3, "clip": true},
         "encoding": {
           "x": {"field": "x", "type": "quantitative", "scale": {"domain": [-0.5, 0.5]}, "axis": {"values": [-0.5, -0.3, -0.1, 0.1, 0.3, 0.5], "format": ".1f", "title": "x/m"}},
           "y": {"field": "y", "type": "quantitative", "scale": {"domain": [56.2, 90]}, "axis": {"values": [60, 70, 80, 90], "title": "声源强度幅值/dB"}},
           "color": {"field": "s", "type": "nominal", "scale": {"domain": ["F", "C", "B"], "range": ["#22e022", "#2233ee", "#ee2222"]}, "legend": {"legendX": 450, "legendY": 557, "labelExpr": "datum.label == 'F' ? '傅里叶插值' : datum.label == 'C' ? '三次样条插值' : 'B样条插值'"}},
           "strokeDash": {"field": "s", "type": "nominal", "scale": {"domain": ["F", "C", "B"], "range": [[1, 0], [10, 6], [12, 4, 3, 4, 3, 4]]}, "legend": {"legendX": 450, "legendY": 557, "labelExpr": "datum.label == 'F' ? '傅里叶插值' : datum.label == 'C' ? '三次样条插值' : 'B样条插值'"}}
         }},
        {"data": {"name": "br"}, "transform": [{"filter": "datum.p == 'c' && datum.k == 'top'"}],
         "mark": {"type": "rule", "strokeWidth": 2.5, "opacity": 0.75},
         "encoding": {"x": {"field": "x", "type": "quantitative"}, "x2": {"field": "x2"}, "y": {"field": "y", "type": "quantitative"}, "y2": {"field": "y2"},
           "color": {"field": "s", "type": "nominal", "scale": {"domain": ["F", "C", "B", "Y"], "range": ["#22e022", "#2233ee", "#ee2222", "#e6e600"]}, "legend": null}}},
        {"data": {"name": "br"}, "transform": [{"filter": "datum.p == 'c' && datum.k == 'half'"}],
         "mark": {"type": "rule", "strokeWidth": 3.5},
         "encoding": {"x": {"field": "x", "type": "quantitative"}, "x2": {"field": "x2"}, "y": {"field": "y", "type": "quantitative"}, "y2": {"field": "y2"},
           "color": {"field": "s", "type": "nominal", "scale": {"domain": ["F", "C", "B"], "range": ["#22e022", "#2233ee", "#ee2222"]}, "legend": null},
           "strokeDash": {"field": "s", "type": "nominal", "scale": {"domain": ["F", "C", "B"], "range": [[1, 0], [10, 6], [12, 4, 3, 4, 3, 4]]}, "legend": null}}}
      ],
      "resolve": {"scale": {"color": "independent", "strokeDash": "independent"}}
    },
    {
      "width": 1085, "height": 837,
      "title": {"text": "(d) α=5"},
      "layer": [
        {"data": {"name": "lines"}, "transform": [{"filter": "datum.p == 'd'"}],
         "mark": {"type": "line", "strokeWidth": 3, "clip": true},
         "encoding": {
           "x": {"field": "x", "type": "quantitative", "scale": {"domain": [-0.5, 0.5]}, "axis": {"values": [-0.5, -0.3, -0.1, 0.1, 0.3, 0.5], "format": ".1f", "title": "x/m"}},
           "y": {"field": "y", "type": "quantitative", "scale": {"domain": [50, 90]}, "axis": {"values": [50, 60, 70, 80, 90], "title": "声源强度幅值/dB"}},
           "color": {"field": "s", "type": "nominal", "scale": {"domain": ["F", "C", "B"], "range": ["#22e022", "#2233ee", "#ee2222"]}, "legend": {"legendX": 393, "legendY": 560, "labelExpr": "datum.label == 'F' ? '傅里叶插值' : datum.label == 'C' ? '三次样条插值' : 'B样条插值'"}},
           "strokeDash": {"field": "s", "type": "nominal", "scale": {"domain": ["F", "C", "B"], "range": [[1, 0], [10, 6], [12, 4, 3, 4, 3, 4]]}, "legend": {"legendX": 393, "legendY": 560, "labelExpr": "datum.label == 'F' ? '傅里叶插值' : datum.label == 'C' ? '三次样条插值' : 'B样条插值'"}}
         }},
        {"data": {"name": "br"}, "transform": [{"filter": "datum.p == 'd' && datum.k == 'top'"}],
         "mark": {"type": "rule", "strokeWidth": 2.5, "opacity": 0.75},
         "encoding": {"x": {"field": "x", "type": "quantitative"}, "x2": {"field": "x2"}, "y": {"field": "y", "type": "quantitative"}, "y2": {"field": "y2"},
           "color": {"field": "s", "type": "nominal", "scale": {"domain": ["F", "C", "B", "Y"], "range": ["#22e022", "#2233ee", "#ee2222", "#e6e600"]}, "legend": null}}},
        {"data": {"name": "br"}, "transform": [{"filter": "datum.p == 'd' && datum.k == 'half'"}],
         "mark": {"type": "rule", "strokeWidth": 3.5},
         "encoding": {"x": {"field": "x", "type": "quantitative"}, "x2": {"field": "x2"}, "y": {"field": "y", "type": "quantitative"}, "y2": {"field": "y2"},
           "color": {"field": "s", "type": "nominal", "scale": {"domain": ["F", "C", "B"], "range": ["#22e022", "#2233ee", "#ee2222"]}, "legend": null},
           "strokeDash": {"field": "s", "type": "nominal", "scale": {"domain": ["F", "C", "B"], "range": [[1, 0], [10, 6], [12, 4, 3, 4, 3, 4]]}, "legend": null}}}
      ],
      "resolve": {"scale": {"color": "independent", "strokeDash": "independent"}}
    },
    {
      "width": 1085, "height": 807,
      "title": {"text": "(e) α=7"},
      "layer": [
        {"data": {"name": "lines"}, "transform": [{"filter": "datum.p == 'e'"}],
         "mark": {"type": "line", "strokeWidth": 3, "clip": true},
         "encoding": {
           "x": {"field": "x", "type": "quantitative", "scale": {"domain": [-0.5, 0.5]}, "axis": {"values": [-0.5, -0.3, -0.1, 0.1, 0.3, 0.5], "format": ".1f", "title": "x/m"}},
           "y": {"field": "y", "type": "quantitative", "scale": {"domain": [60, 90]}, "axis": {"values": [60, 70, 80, 90], "title": "声源强度幅值/dB"}},
           "color": {"field": "s", "type": "nominal", "scale": {"domain": ["F", "C", "B"], "range": ["#22e022", "#2233ee", "#ee2222"]}, "legend": {"legendX": 300, "legendY": 534, "labelExpr": "datum.label == 'F' ? '傅里叶插值' : datum.label == 'C' ? '三次样条插值' : 'B样条插值'"}},
           "strokeDash": {"field": "s", "type": "nominal", "scale": {"domain": ["F", "C", "B"], "range": [[1, 0], [10, 6], [12, 4, 3, 4, 3, 4]]}, "legend": {"legendX": 300, "legendY": 534, "labelExpr": "datum.label == 'F' ? '傅里叶插值' : datum.label == 'C' ? '三次样条插值' : 'B样条插值'"}}
         }},
        {"data": {"name": "br"}, "transform": [{"filter": "datum.p == 'e' && datum.k == 'top'"}],
         "mark": {"type": "rule", "strokeWidth": 2.5, "opacity": 0.75},
         "encoding": {"x": {"field": "x", "type": "quantitative"}, "x2": {"field": "x2"}, "y": {"field": "y", "type": "quantitative"}, "y2": {"field": "y2"},
           "color": {"field": "s", "type": "nominal", "scale": {"domain": ["F", "C", "B", "Y"], "range": ["#22e022", "#2233ee", "#ee2222", "#e6e600"]}, "legend": null}}},
        {"data": {"name": "br"}, "transform": [{"filter": "datum.p == 'e' && datum.k == 'half'"}],
         "mark": {"type": "rule", "strokeWidth": 3.5},
         "encoding": {"x": {"field": "x", "type": "quantitative"}, "x2": {"field": "x2"}, "y": {"field": "y", "type": "quantitative"}, "y2": {"field": "y2"},
           "color": {"field": "s", "type": "nominal", "scale": {"domain": ["F", "C", "B"], "range": ["#22e022", "#2233ee", "#ee2222"]}, "legend": null},
           "strokeDash": {"field": "s", "type": "nominal", "scale": {"domain": ["F", "C", "B"], "range": [[1, 0], [10, 6], [12, 4, 3, 4, 3, 4]]}, "legend": null}}}
      ],
      "resolve": {"scale": {"color": "independent", "strokeDash": "independent"}}
    }
  ],
  "resolve": {"scale": {"color": "independent", "strokeDash": "independent"}, "legend": {"color": "independent", "strokeDash": "independent"}},
  "config": {
    "font": "Liberation Serif",
    "view": {"stroke": "#111111", "strokeWidth": 3},
    "title": {"orient": "bottom", "anchor": "middle", "fontSize": 50, "fontWeight": "normal", "font": "Liberation Serif", "color": "#111111", "offset": 22},
    "axis": {
      "grid": false, "domain": false, "tickSize": -16, "tickWidth": 3, "tickColor": "#111111",
      "labelFont": "Liberation Serif", "labelFontSize": 52, "labelColor": "#111111", "labelPadding": 12,
      "titleFont": "'Liberation Serif', 'Noto Sans CJK SC'", "titleFontSize": 54, "titleFontWeight": "normal", "titleColor": "#111111"
    },
    "axisX": {"labelPadding": 10, "titlePadding": 40, "labelFlush": false},
    "axisY": {"titlePadding": 50},
    "legend": {
      "orient": "none", "title": null, "symbolType": "stroke", "symbolSize": 6400, "symbolStrokeWidth": 5,
      "labelFont": "'Liberation Serif', 'Noto Sans CJK SC'", "labelFontSize": 54, "labelColor": "#111111",
      "labelOffset": 18, "rowPadding": 0
    }
  }
}
